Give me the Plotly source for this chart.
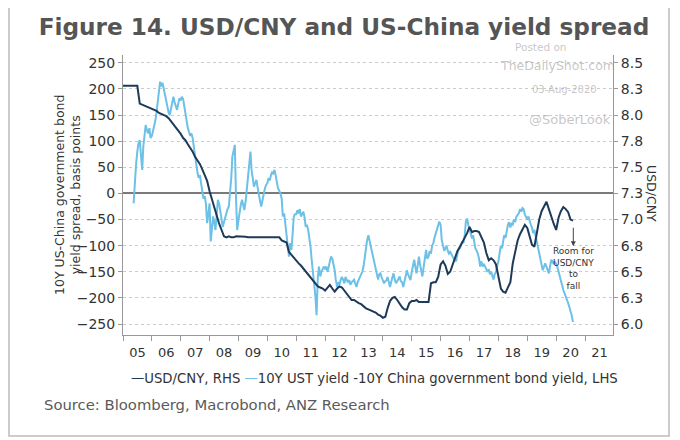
import pandas as pd
import plotly.graph_objects as go

# ---- data ----
usdcny_start = "2005-01-01"   # monthly, first of month
usdcny = [
    8.28, 8.28, 8.28, 8.28, 8.28, 8.28, 8.28, 8.11, 8.10, 8.09, 8.08, 8.07,   # 2005
    8.06, 8.05, 8.04, 8.02, 8.01, 8.00, 7.99, 7.97, 7.94, 7.92, 7.89, 7.86,   # 2006
    7.82, 7.78, 7.76, 7.72, 7.69, 7.65, 7.60, 7.57, 7.53, 7.48, 7.42, 7.37,   # 2007
    7.27, 7.19, 7.10, 7.02, 6.96, 6.90, 6.84, 6.83, 6.84, 6.83, 6.83, 6.84,   # 2008
    6.84, 6.835, 6.84, 6.835, 6.83, 6.83, 6.83, 6.83, 6.83, 6.83, 6.83, 6.83, # 2009
    6.83, 6.83, 6.83, 6.83, 6.83, 6.83, 6.80, 6.79, 6.78, 6.69, 6.66, 6.64,   # 2010
    6.61, 6.58, 6.56, 6.53, 6.50, 6.48, 6.45, 6.42, 6.39, 6.36, 6.35, 6.34,   # 2011
    6.32, 6.35, 6.375, 6.34, 6.31, 6.34, 6.36, 6.35, 6.32, 6.28, 6.25, 6.23,  # 2012
    6.23, 6.21, 6.20, 6.19, 6.17, 6.15, 6.14, 6.13, 6.12, 6.11, 6.09, 6.08,   # 2013
    6.06, 6.07, 6.15, 6.22, 6.25, 6.26, 6.23, 6.19, 6.16, 6.14, 6.14, 6.20,   # 2014
    6.22, 6.22, 6.23, 6.21, 6.21, 6.21, 6.21, 6.21, 6.39, 6.40, 6.40, 6.45,   # 2015
    6.57, 6.60, 6.56, 6.48, 6.50, 6.57, 6.65, 6.70, 6.74, 6.78, 6.83, 6.87,   # 2016
    6.93, 6.88, 6.89, 6.89, 6.88, 6.83, 6.78, 6.68, 6.61, 6.63, 6.61, 6.57,   # 2017
    6.45, 6.34, 6.31, 6.30, 6.35, 6.40, 6.58, 6.70, 6.80, 6.86, 6.90, 6.95,   # 2018
    6.92, 6.83, 6.76, 6.74, 6.87, 7.00, 7.08, 7.13, 7.17, 7.10, 7.02, 6.96,   # 2019
    6.90, 7.02, 7.08, 7.12, 7.10, 7.07, 7.00, 6.99,                           # 2020
]

spread_start = "2005-05-15"   # semi-monthly (1st and 15th)
spread_bp = [
    # 2005 (from May 15)
    -19, 30, 55, 80, 95, 102, 75, 45, 90, 110, 131, 120, 115, 125, 106,
    # 2006
    110, 120, 128, 140, 155, 173, 200, 214, 205, 212, 200, 190,
    179, 165, 155, 150, 165, 175, 185, 175, 165, 160, 172, 182,
    # 2007
    178, 185, 180, 165, 155, 140, 125, 118, 110, 115, 106, 90,
    70, 55, 40, 30, 35, 20, 3, -10, -5, -19, -57, -35,
    # 2008
    -19, -92, -60, -44, -55, -70, -40, -12, -20, -38, -50, -64,
    -55, -45, -38, -30, -25, -5, 30, 70, 80, 93, -12, -70,
    # 2009
    -50, -32, -20, -12, -25, -32, -15, 7, 40, 65, 80, 45,
    32, 13, 20, 26, 10, -6, -15, -25, -10, 0, 10, 16,
    # 2010
    20, 29, 25, 35, 40, 38, 45, 35, 20, 10, 5, 0,
    -10, -44, -38, -55, -76, -90, -121, -95, -108, -80, -44, -40,
    # 2011
    -40, -32, -38, -30, -44, -40, -35, -45, -64, -60, -70, -85,
    -102, -127, -150, -172, -198, -233, -160, -140, -159, -150, -145, -140,
    # 2012
    -145, -140, -150, -140, -130, -121, -125, -135, -147, -165, -179, -170,
    -175, -166, -160, -165, -172, -160, -165, -170, -166, -175, -170, -168,
    # 2013
    -165, -172, -179, -170, -165, -160, -156, -150, -140, -121, -105, -90,
    -80, -90, -102, -115, -125, -134, -145, -159, -165, -155, -153, -160,
    # 2014
    -165, -172, -168, -166, -160, -170, -179, -170, -160, -153, -165, -172,
    -168, -165, -159, -168, -170, -179, -170, -160, -147, -155, -160, -166,
    # 2015
    -150, -140, -127, -140, -153, -140, -121, -135, -150, -159, -140, -120,
    -108, -125, -121, -110, -115, -100, -95, -85, -76, -70, -60, -54,
    # 2016
    -60, -89, -100, -110, -105, -100, -110, -115, -112, -118, -121, -125,
    -128, -130, -115, -108, -105, -100, -92, -95, -80, -54, -48, -60,
    # 2017
    -70, -75, -86, -80, -95, -105, -110, -115, -125, -140, -130, -140,
    -135, -140, -145, -150, -145, -155, -150, -159, -165, -155, -150, -140,
    # 2018
    -130, -115, -100, -105, -90, -80, -85, -70, -60, -55, -65, -58,
    -60, -50, -55, -45, -40, -38, -30, -35, -28, -30, -40, -45,
    # 2019
    -50, -44, -55, -60, -65, -76, -70, -80, -90, -102, -115, -125,
    -135, -147, -140, -134, -140, -145, -153, -140, -127, -130, -135, -130,
    # 2020 (to Aug 1)
    -135, -140, -150, -160, -166, -175, -185, -190, -198, -204, -210, -217,
    -225, -233, -246,
]

left_ticks = [250, 200, 150, 100, 50, 0, -50, -100, -150, -200, -250]
right_tickvals = [8.5, 8.25, 8.0, 7.75, 7.5, 7.25, 7.0, 6.75, 6.5, 6.25, 6.0]
right_ticktext = ["8.5", "8.3", "8.0", "7.8", "7.5", "7.3", "7.0", "6.8", "6.5", "6.3", "6.0"]

usd_dates = pd.date_range(usdcny_start, periods=len(usdcny), freq="MS")
spread_dates = pd.date_range(spread_start, periods=len(spread_bp), freq="SMS")

NAVY = "#1d3a58"
LIGHT = "#6dc0e6"
FONT = "DejaVu Sans"

# axes mapping: left [-271, 265] <-> right 7.25 + v/200
left_range = [-271, 265]
right_range = [7.25 + left_range[0] / 200, 7.25 + left_range[1] / 200]

fig = go.Figure()
fig.add_trace(go.Scatter(
    x=spread_dates, y=spread_bp, mode="lines",
    name="10Y UST yield -10Y China government bond yield, LHS",
    line=dict(color=LIGHT, width=2), yaxis="y"))
fig.add_trace(go.Scatter(
    x=usd_dates, y=usdcny, mode="lines",
    name="USD/CNY, RHS",
    line=dict(color=NAVY, width=2), yaxis="y2"))

# page places the figure 8px in from the window corner; positions below are window pixels
OFF = 8
W, H = 680, 440
PL, PR, PT, PB = 123, 613, 55, 335          # plot area in window pixels
L, R, T, B = PL - OFF, W - (PR - OFF), PT - OFF, H - (PB - OFF)
pw, ph = W - L - R, H - T - B

def px(xp):
    return (xp - OFF - L) / pw

def py(yp):
    return (H - B - (yp - OFF)) / ph

fig.update_layout(
    width=W, height=H,
    margin=dict(l=L, r=R, t=T, b=B, autoexpand=False),
    paper_bgcolor="white", plot_bgcolor="white",
    showlegend=False,
    font=dict(family=FONT, color="#333333", size=13),
    title=dict(text="<b>Figure 14. USD/CNY and US-China yield spread</b>",
               x=(344 - OFF) / W, xanchor="center", y=1 - (27 - OFF) / H, yanchor="middle",
               font=dict(family=FONT, size=23.2, color="#555555")),
    xaxis=dict(type="date", range=["2005-01-01", "2021-12-20"],
               tick0="2005-01-01", dtick="M12", tickformat="%y",
               ticklabelmode="period", ticks="outside", ticklen=5,
               tickcolor="#999999", showline=True, linecolor="#999999",
               showgrid=False, zeroline=False, automargin=False,
               tickfont=dict(size=13, color="#333333")),
    yaxis=dict(range=left_range, tickvals=left_ticks,
               ticks="outside", ticklen=4, tickcolor="#999999",
               showline=True, linecolor="#999999", automargin=False,
               showgrid=True, gridcolor="#cccccc", griddash="dot", gridwidth=1,
               zeroline=True, zerolinecolor="#7a7a7a", zerolinewidth=2,
               tickfont=dict(size=14, color="#333333")),
    yaxis2=dict(range=right_range, overlaying="y", side="right",
                tickvals=right_tickvals, ticktext=right_ticktext,
                ticks="outside", ticklen=4, tickcolor="#999999",
                showline=True, linecolor="#999999", automargin=False,
                showgrid=False, zeroline=False,
                tickfont=dict(size=14, color="#333333")),
)

ann = []
# left axis title
ann.append(dict(text="10Y US-China government bond<br>yield spread, basis points",
                xref="paper", yref="paper", x=px(67), y=py(195),
                textangle=-90, showarrow=False, font=dict(size=12.5, color="#333333"),
                xanchor="center", yanchor="middle"))
# right axis title
ann.append(dict(text="USD/CNY", xref="paper", yref="paper", x=px(652), y=py(193),
                textangle=90, showarrow=False, font=dict(size=12.5, color="#333333"),
                xanchor="center", yanchor="middle"))
# legend line
ann.append(dict(
    text=(f'<span style="color:{NAVY}">—</span>USD/CNY, RHS '
          f'<span style="color:{LIGHT}">—</span>10Y UST yield -10Y China government bond yield, LHS'),
    xref="paper", yref="paper", x=px(129), y=py(378), xanchor="left", yanchor="middle",
    showarrow=False, font=dict(size=13.25, color="#333333")))
# source
ann.append(dict(text="Source: Bloomberg, Macrobond, ANZ Research",
                xref="paper", yref="paper", x=px(42), y=py(404), xanchor="left", yanchor="middle",
                showarrow=False, font=dict(size=14.8, color="#5a5a5a")))
# watermark
wm = "rgba(150,150,150,0.55)"
for txt, cx, cy, fs in [("Posted on", 541, 47, 10.5),
                        ("TheDailyShot.com", 557, 66, 12.5),
                        ("03-Aug-2020", 564, 89, 10),
                        ("@SoberLook", 570, 119, 13)]:
    ann.append(dict(text=txt, xref="paper", yref="paper", x=px(cx), y=py(cy),
                    xanchor="center", yanchor="middle",
                    showarrow=False, font=dict(size=fs, color=wm)))
# arrow + note
ann.append(dict(text="", x="2020-08-05", y=-101, xref="x", yref="y",
                showarrow=True, ax=0, ay=-20, arrowhead=2, arrowsize=1,
                arrowwidth=1, arrowcolor="#444444"))
ann.append(dict(text="Room for<br>USD/CNY<br>to<br>fall", x="2020-08-05", y=-143,
                xref="x", yref="y", showarrow=False, xanchor="center", yanchor="middle",
                font=dict(size=9, color="#333333")))
fig.update_layout(annotations=ann)

# outer frame
fig.add_shape(type="rect", xref="paper", yref="paper",
              x0=px(9), x1=px(669), y0=py(436), y1=py(2),
              line=dict(color="#cccccc", width=2), fillcolor="rgba(0,0,0,0)", layer="below")

fig.write_html("out.html")
